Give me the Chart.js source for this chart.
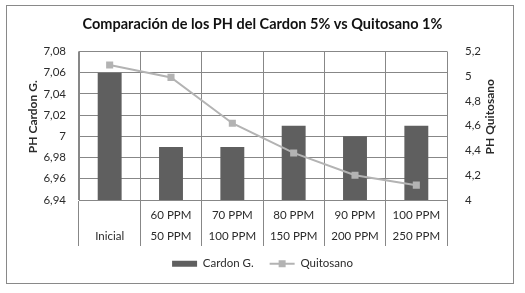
<!DOCTYPE html>
<html lang="es">
<head>
  <meta charset="UTF-8">
  <title>Comparación de los PH del Cardon 5% vs Quitosano 1%</title>
  <script src="https://cdn.jsdelivr.net/npm/chart.js"></script>
  <style>
    html, body { margin: 0; padding: 0; background: #fff; }
    canvas { display: block; }
  </style>
</head>
<body>
  <canvas id="phChart" width="525" height="293"></canvas>

  <script>
    // datos
    const categories = [
      ['', 'Inicial'],
      ['60 PPM', '50 PPM'],
      ['70 PPM', '100 PPM'],
      ['80 PPM', '150 PPM'],
      ['90 PPM', '200 PPM'],
      ['100 PPM', '250 PPM']
    ];
    const cardonValues = [7.06, 6.99, 6.99, 7.01, 7.00, 7.01];
    const quitosanoValues = [5.09, 4.99, 4.62, 4.38, 4.20, 4.12];

    const FONT = 'Lato';
    const GRID = '#878787';
    const TEXT = '#2b2b2b';
    const TICK_SIZE = 11.5;

    const fmt = v => String(+Number(v).toFixed(2)).replace('.', ',');

    // marco exterior
    const frame = {
      id: 'frame',
      beforeDraw(chart) {
        const ctx = chart.ctx;
        ctx.save();
        ctx.strokeStyle = '#898989';
        ctx.lineWidth = 1;
        ctx.strokeRect(6.5, 5.5, 507, 278);
        ctx.restore();
      }
    };

    // titulos de ejes (ambos girados hacia arriba, como en Excel)
    const axisTitles = {
      id: 'axisTitles',
      afterDraw(chart) {
        const { ctx, chartArea } = chart;
        const cy = (chartArea.top + chartArea.bottom) / 2 - 9;
        ctx.save();
        ctx.font = `bold 12px ${FONT}`;
        ctx.fillStyle = TEXT;
        ctx.textAlign = 'center';
        ctx.textBaseline = 'middle';
        [[chartArea.left - 46, 'PH Cardon G.'], [chartArea.right + 43, 'PH Quitosano']].forEach(([x, t]) => {
          ctx.save();
          ctx.translate(x, cy);
          ctx.rotate(-Math.PI / 2);
          ctx.fillText(t, 0, 0);
          ctx.restore();
        });
        ctx.restore();
      }
    };

    // linea con marcador cuadrado en la leyenda de Quitosano
    const legendMarker = {
      id: 'legendMarker',
      afterDraw(chart) {
        const legend = chart.legend;
        if (!legend || !legend.legendItems) return;
        const ctx = chart.ctx;
        legend.legendItems.forEach((item, i) => {
          if (item.pointStyle !== 'line') return;
          const box = legend.legendHitBoxes[i];
          const cx = box.left + 25 / 2;
          const cy = box.top + TICK_SIZE / 2;
          ctx.save();
          ctx.strokeStyle = item.strokeStyle;
          ctx.lineWidth = 2;
          ctx.beginPath();
          ctx.moveTo(box.left, cy);
          ctx.lineTo(box.left + 25, cy);
          ctx.stroke();
          ctx.fillStyle = item.strokeStyle;
          ctx.fillRect(cx - 3.5, cy - 3.5, 7, 7);
          ctx.restore();
        });
      }
    };

    new Chart(document.getElementById('phChart'), {
      data: {
        labels: categories,
        datasets: [
          {
            type: 'bar',
            label: 'Cardon G.',
            data: cardonValues,
            yAxisID: 'yLeft',
            backgroundColor: '#5f5f5f',
            barPercentage: 0.39,
            categoryPercentage: 1,
            order: 1
          },
          {
            type: 'line',
            label: 'Quitosano',
            data: quitosanoValues,
            yAxisID: 'yRight',
            borderColor: '#b3b3b3',
            backgroundColor: '#b3b3b3',
            borderWidth: 2,
            pointStyle: 'rect',
            pointRadius: 5,
            pointBorderWidth: 0,
            pointBackgroundColor: '#b3b3b3',
            order: 0
          }
        ]
      },
      options: {
        responsive: false,
        animation: false,
        maintainAspectRatio: false,
        layout: { padding: { top: 6, left: 7, right: 7, bottom: 17 } },
        plugins: {
          tooltip: { enabled: false },
          title: {
            display: true,
            text: 'Comparación de los PH del Cardon 5% vs Quitosano 1%',
            color: '#111111',
            font: { family: FONT, size: 14.5, weight: 'bold' },
            padding: { top: 10, bottom: 18 }
          },
          legend: {
            position: 'bottom',
            maxHeight: 34,
            labels: {
              color: TEXT,
              font: { family: FONT, size: TICK_SIZE },
              usePointStyle: true,
              pointStyleWidth: 25,
              boxHeight: 6,
              padding: 16,
              generateLabels(chart) {
                const items = Chart.defaults.plugins.legend.labels.generateLabels(chart);
                items.sort((a, b) => a.datasetIndex - b.datasetIndex);
                items.forEach(it => {
                  const ds = chart.data.datasets[it.datasetIndex];
                  it.pointStyle = ds.type === 'line' ? 'line' : 'rect';
                  if (ds.type !== 'line') it.lineWidth = 0;
                });
                return items;
              }
            }
          }
        },
        scales: {
          x: {
            grid: { color: GRID, offset: true, drawTicks: true, tickLength: 46 },
            border: { color: GRID },
            ticks: {
              color: TEXT,
              font: { family: FONT, size: TICK_SIZE, lineHeight: 21 / TICK_SIZE },
              padding: -41,
              maxRotation: 0,
              autoSkip: false
            },
            afterFit(s) { s.height = 42; }
          },
          yLeft: {
            position: 'left',
            min: 6.94,
            max: 7.08,
            grid: { color: GRID, drawTicks: false },
            border: { color: GRID },
            ticks: { stepSize: 0.02, padding: 13, color: TEXT, font: { family: FONT, size: TICK_SIZE }, callback: fmt },
            afterFit(s) { s.width = 72; }
          },
          yRight: {
            position: 'right',
            min: 4,
            max: 5.2,
            grid: { display: false, drawTicks: false },
            border: { display: false },
            ticks: { stepSize: 0.2, padding: 18, color: TEXT, font: { family: FONT, size: TICK_SIZE }, callback: fmt },
            afterFit(s) { s.width = 71; }
          }
        }
      },
      plugins: [frame, axisTitles, legendMarker]
    });
  </script>
</body>
</html>
